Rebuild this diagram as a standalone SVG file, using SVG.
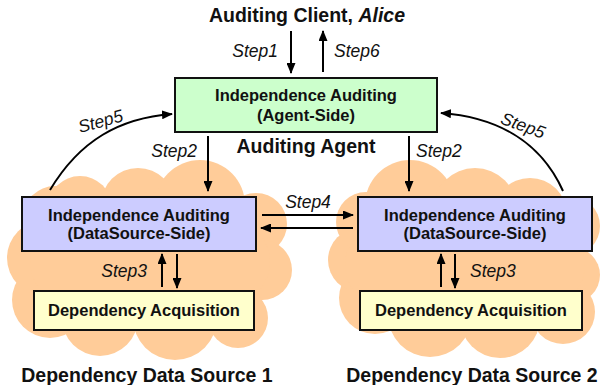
<svg xmlns="http://www.w3.org/2000/svg" width="601" height="385" viewBox="0 0 601 385">
<style>
.box{stroke:#111;stroke-width:2}
.bt{font-family:"Liberation Sans",Arial,sans-serif;font-weight:bold;font-size:16.5px;text-anchor:middle;fill:#111}
.big{font-family:"Liberation Sans",Arial,sans-serif;font-weight:bold;font-size:19.5px;text-anchor:middle;fill:#111}
.st{font-family:"Liberation Sans",Arial,sans-serif;font-style:italic;font-size:17.5px;fill:#111}
.ln{stroke:#000;stroke-width:2;fill:none;marker-end:url(#ah)}
.cloud{fill:#FFCC99}
</style>
<defs>
<marker id="ah" markerUnits="userSpaceOnUse" markerWidth="11" markerHeight="9" refX="10" refY="4.5" orient="auto">
<path d="M0,0 L11,4.5 L0,9 z" fill="#000"/>
</marker>
</defs>

<g id="cloud1" class="cloud">
<circle cx="80" cy="208" r="32"/>
<circle cx="138" cy="205" r="37"/>
<circle cx="200" cy="205" r="45"/>
<circle cx="256" cy="224" r="31"/>
<circle cx="262" cy="270" r="30"/>
<circle cx="238" cy="318" r="30"/>
<circle cx="175" cy="318" r="42"/>
<circle cx="100" cy="318" r="38"/>
<circle cx="50" cy="300" r="38"/>
<circle cx="45" cy="258" r="38"/>
<circle cx="55" cy="218" r="32"/>
<ellipse cx="150" cy="262" rx="120" ry="70"/>
</g>
<g id="cloud2" class="cloud">
<circle cx="410" cy="205" r="45"/>
<circle cx="475" cy="210" r="42"/>
<circle cx="530" cy="215" r="37"/>
<circle cx="570" cy="226" r="30"/>
<circle cx="572" cy="275" r="28"/>
<circle cx="563" cy="312" r="32"/>
<circle cx="500" cy="318" r="40"/>
<circle cx="430" cy="315" r="42"/>
<circle cx="375" cy="298" r="36"/>
<circle cx="360" cy="260" r="32"/>
<circle cx="366" cy="222" r="30"/>
<ellipse cx="465" cy="265" rx="120" ry="70"/>
</g>

<g id="labels">
<text class="big" x="307" y="22">Auditing Client, <tspan font-style="italic">Alice</tspan></text>
<text class="big" x="306" y="153">Auditing Agent</text>
<text class="big" x="147" y="382">Dependency Data Source 1</text>
<text class="big" x="472" y="382">Dependency Data Source 2</text>
</g>

<g id="agent">
<rect class="box" x="175" y="78" width="262" height="54" fill="#CCFFCC"/>
<text class="bt" x="306" y="101">Independence Auditing</text>
<text class="bt" x="306" y="121">(Agent-Side)</text>
</g>
<g id="ds1">
<rect class="box" x="22" y="197" width="234" height="54" fill="#CCCCFF"/>
<text class="bt" x="139" y="221">Independence Auditing</text>
<text class="bt" x="139" y="239">(DataSource-Side)</text>
</g>
<g id="ds2">
<rect class="box" x="358" y="197" width="234" height="54" fill="#CCCCFF"/>
<text class="bt" x="475" y="221">Independence Auditing</text>
<text class="bt" x="475" y="239">(DataSource-Side)</text>
</g>
<g id="acq1">
<rect class="box" x="34" y="291" width="220" height="39" fill="#FFFFCC"/>
<text class="bt" x="144" y="316">Dependency Acquisition</text>
</g>
<g id="acq2">
<rect class="box" x="360" y="291" width="222" height="39" fill="#FFFFCC"/>
<text class="bt" x="471" y="316">Dependency Acquisition</text>
</g>

<g id="connectors">
<line class="ln" x1="291" y1="31" x2="291" y2="73"/>
<line class="ln" x1="323" y1="72" x2="323" y2="31"/>
<line class="ln" x1="208" y1="136" x2="208" y2="191"/>
<line class="ln" x1="409" y1="136" x2="409" y2="191"/>
<line class="ln" x1="262" y1="215" x2="353" y2="215"/>
<line class="ln" x1="353" y1="228" x2="261" y2="228"/>
<line class="ln" x1="162" y1="287" x2="162" y2="254"/>
<line class="ln" x1="177" y1="254" x2="177" y2="288"/>
<line class="ln" x1="441" y1="287" x2="441" y2="254"/>
<line class="ln" x1="455" y1="254" x2="455" y2="288"/>
<path class="ln" d="M50,190 C80,140 120,118 172,114"/>
<path class="ln" d="M563,191 C540,140 495,117 441,113"/>
<text class="st" x="278" y="57" text-anchor="end">Step1</text>
<text class="st" x="334" y="57">Step6</text>
<text class="st" x="197" y="157" text-anchor="end">Step2</text>
<text class="st" x="416" y="157">Step2</text>
<text class="st" x="308" y="208" text-anchor="middle">Step4</text>
<text class="st" x="147" y="277" text-anchor="end">Step3</text>
<text class="st" x="470" y="277">Step3</text>
<text class="st" text-anchor="middle" transform="translate(102,127) rotate(-15)">Step5</text>
<text class="st" text-anchor="middle" transform="translate(521,131) rotate(20)">Step5</text>
</g>
</svg>
